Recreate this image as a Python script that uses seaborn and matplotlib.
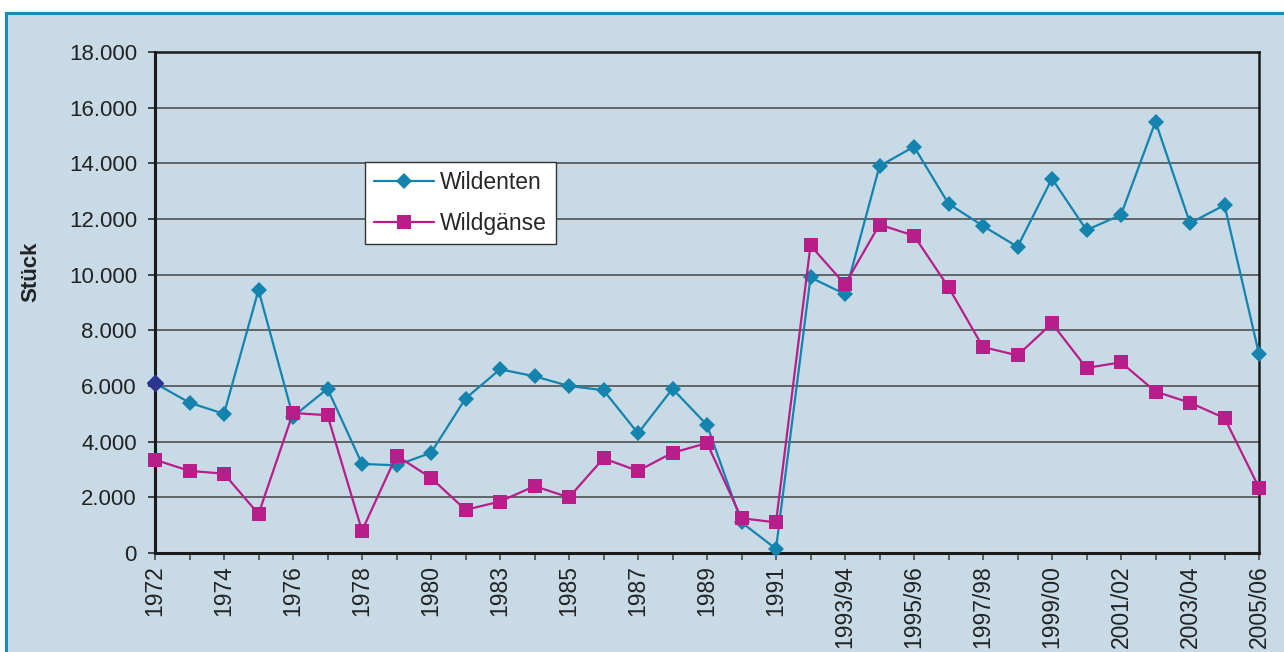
import matplotlib
matplotlib.use("Agg")
import matplotlib.pyplot as plt
from matplotlib.patches import Rectangle
import matplotlib.ticker as mticker
import seaborn as sns
import pandas as pd

# Jahre / Jagdjahre
jahre = ["1972", "1973", "1974", "1975", "1976", "1977", "1978", "1979", "1980",
         "1982", "1983", "1984", "1985", "1986", "1987", "1988", "1989", "1990",
         "1991", "1992/93", "1993/94", "1994/95", "1995/96", "1996/97", "1997/98",
         "1998/99", "1999/00", "2000/01", "2001/02", "2002/03", "2003/04",
         "2004/05", "2005/06"]

# Strecke Wildenten (Stück)
wildenten = [6100, 5400, 5000, 9450, 4900, 5900, 3200, 3150, 3600,
             5550, 6600, 6350, 6000, 5850, 4300, 5900, 4600, 1100,
             150, 9900, 9300, 13900, 14600, 12550, 11750,
             11000, 13450, 11600, 12150, 15500, 11850,
             12500, 7150]

# Strecke Wildgänse (Stück)
wildgaense = [3350, 2950, 2850, 1400, 5030, 4950, 800, 3500, 2700,
              1550, 1850, 2400, 2000, 3400, 2950, 3600, 3950, 1250,
              1100, 11050, 9650, 11800, 11400, 9550, 7400,
              7100, 8250, 6650, 6850, 5800, 5400,
              4850, 2350]

farben = {"Wildenten": "#1483ae", "Wildgänse": "#b81e8a"}

df = pd.DataFrame({
    "x": list(range(len(jahre))) * 2,
    "Stück": wildenten + wildgaense,
    "Art": ["Wildenten"] * len(jahre) + ["Wildgänse"] * len(jahre),
})

bg = "#c8dae6"
sns.set_style("white")
plt.rcParams["font.family"] = ["Liberation Sans", "DejaVu Sans"]

fig = plt.figure(figsize=(12.84, 6.52), dpi=100, facecolor="white")
# Rahmen um die Grafik
rahmen = Rectangle((6 / 1284, -0.1), 1.2, 1 - 13 / 652 + 0.1,
                   transform=fig.transFigure, facecolor=bg,
                   edgecolor="#1a8cb8", linewidth=2.2, zorder=-10)
fig.add_artist(rahmen)
ax = fig.add_axes([155 / 1284, 1 - 553 / 652, 1104 / 1284, 501 / 652])
ax.set_zorder(5)
ax.set_facecolor(bg)

sns.lineplot(data=df, x="x", y="Stück", hue="Art", style="Art",
             markers={"Wildenten": "D", "Wildgänse": "s"},
             dashes=False, palette=farben, linewidth=1.6,
             markeredgewidth=0, ax=ax, clip_on=False, zorder=3)
for line in ax.lines:
    if line.get_marker() == "D":
        line.set_markersize(8)
    elif line.get_marker() == "s":
        line.set_markersize(9.5)

# erster Punkt dunkler wie im Original
ax.plot([0], [wildenten[0]], marker="D", markersize=8, color="#2b3590",
        linestyle="none", clip_on=False, zorder=4)

ax.set_xlim(0, len(jahre) - 1)
ax.set_ylim(0, 18000)
ax.set_yticks(range(0, 18001, 2000))
ax.yaxis.set_major_formatter(mticker.FuncFormatter(
    lambda v, p: f"{int(v):,}".replace(",", ".")))
ax.set_xticks(range(len(jahre)))
ax.set_xticklabels([j if i % 2 == 0 else "" for i, j in enumerate(jahre)],
                   rotation=90, va="top")
ax.tick_params(axis="x", length=5, width=1.3, color="#555555", pad=4,
               labelsize=16.5, labelcolor="#222222", direction="out", bottom=True)
ax.tick_params(axis="y", length=5, width=1.3, color="#333333", pad=8,
               labelsize=16, labelcolor="#222222", direction="out", left=True)

ax.grid(axis="y", color="#444444", linewidth=1.1, zorder=1)
ax.set_axisbelow(True)
for s in ["left", "bottom"]:
    ax.spines[s].set_linewidth(2.2)
    ax.spines[s].set_color("#1a1a1a")
for s in ["right", "top"]:
    ax.spines[s].set_linewidth(1.8)
    ax.spines[s].set_color("#1a1a1a")

ax.set_xlabel("")
ax.set_ylabel("Stück", fontsize=16, fontweight="bold", color="#222222")
ax.yaxis.set_label_coords(-114 / 1104, (553 - 272) / 501)

handles, labels = ax.get_legend_handles_labels()
leg = ax.legend(handles[:2], labels[:2], loc="upper left",
                bbox_to_anchor=(0.19, 0.78), borderaxespad=0, frameon=True,
                fancybox=False, framealpha=1, facecolor="white",
                edgecolor="#333333", fontsize=16.5, handlelength=2.6,
                labelspacing=0.75, borderpad=0.4, handletextpad=0.3,
                title=None)
leg.get_frame().set_linewidth(1.0)
for h in leg.legend_handles:
    h.set_linewidth(1.6)

fig.savefig("out.png", dpi=100, facecolor="white")
